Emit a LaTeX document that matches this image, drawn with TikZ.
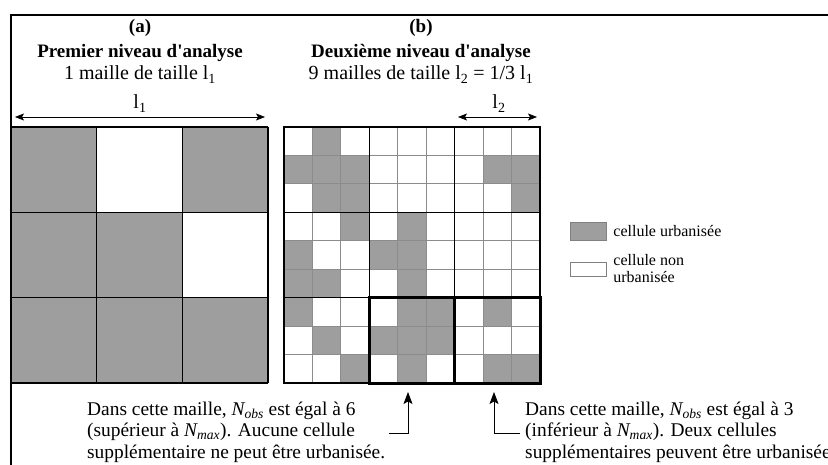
\documentclass[tikz,border=0pt]{standalone}
\usepackage{fontspec}
\setmainfont{Liberation Serif}[Ligatures=TeXOff]
\usetikzlibrary{arrows.meta, positioning}
\definecolor{urbgray}{HTML}{9E9E9E}
\definecolor{cellline}{HTML}{8C8C8C}

\begin{document}
\begin{tikzpicture}[x=1pt, y=-1pt,
  title/.style={font=\fontsize{19}{22}\selectfont\bfseries, inner sep=0pt, anchor=base},
  subtitle/.style={font=\fontsize{20}{22}\selectfont, inner sep=0pt, anchor=base},
  dimline/.style={{Stealth[length=9pt,width=7pt,inset=2pt]}-{Stealth[length=9pt,width=7pt,inset=2pt]}, line width=0.6pt},
  note/.style={font=\fontsize{19.4}{21.5}\selectfont, align=left, inner sep=0pt, anchor=west},
  legtext/.style={font=\fontsize{16}{17}\selectfont, align=left, inner sep=0pt, anchor=west},
  urban/.style={fill=urbgray},
  pointer/.style={-{Stealth[length=12pt,width=9pt,inset=2.5pt]}, line width=0.8pt}
]
  \useasboundingbox (0,0) rectangle (828,465);
  \draw[line width=2pt] (11,465) -- (11,15) -- (828,15);

  % (a) premier niveau
  \node[title] (lettera) at (140,33) {(a)};
  \node[title] (titlea) at (140,58) {Premier niveau d'analyse};
  \node[subtitle] (suba) at (140,80) {1 maille de taille l\textsubscript{1}};
  \coordinate (dima1) at (15,117);
  \coordinate (dima2) at (265,117);
  \draw[dimline] (dima1) -- (dima2);
  \node[subtitle] (la) at (140,109) {l\textsubscript{1}};

  \foreach \r/\c in {1/1, 1/3, 2/1, 2/2, 3/1, 3/2, 3/3}
    \fill[urban] (11+\c*85.67-85.67, 127+\r*85.33-85.33) rectangle +(85.67,85.33);
  \foreach \i in {0,1,2,3} {
    \draw[line width=1.5pt] (11+\i*85.67,127) -- ++(0,256);
    \draw[line width=1.5pt] (11,127+\i*85.33) -- ++(257,0);
  }

  % (b) deuxieme niveau
  \node[title] (letterb) at (421,33) {(b)};
  \node[title] (titleb) at (421,58) {Deuxième niveau d'analyse};
  \node[subtitle] (subb) at (421,80) {9 mailles de taille l\textsubscript{2} = 1/3 l\textsubscript{1}};
  \coordinate (dimb1) at (458,117);
  \coordinate (dimb2) at (537,117);
  \draw[dimline] (dimb1) -- (dimb2);
  \node[subtitle] (lb) at (499,109) {l\textsubscript{2}};

  \foreach \r/\c in {1/2, 2/1, 2/2, 2/3, 2/8, 2/9, 3/2, 3/3, 3/9,
                     4/3, 4/5, 5/1, 5/4, 5/5, 6/1, 6/2, 6/5,
                     7/1, 7/5, 7/6, 7/8, 8/2, 8/4, 8/5, 8/6, 9/3, 9/5, 9/8, 9/9}
    \fill[urban] (284+\c*28.444-28.444, 127+\r*28.444-28.444) rectangle +(28.444,28.444);
  \foreach \i in {1,2,4,5,7,8} {
    \draw[cellline, line width=0.9pt] (284+\i*28.444,127) -- ++(0,256);
    \draw[cellline, line width=0.9pt] (284,127+\i*28.444) -- ++(256,0);
  }
  \foreach \i in {3,6} {
    \draw[line width=1.3pt] (284+\i*28.444,127) -- ++(0,256);
    \draw[line width=1.3pt] (284,127+\i*28.444) -- ++(256,0);
  }
  \draw[line width=1.5pt] (284,127) rectangle (540,383);
  \draw[line width=3pt] (369.33,297.67) rectangle (454.67,383);
  \draw[line width=3pt] (454.67,297.67) rectangle (540,383);

  % legende
  \node[draw=gray, fill=urbgray, minimum width=36pt, minimum height=18pt, inner sep=0pt] (legurb) at (588,231) {};
  \node[legtext, right=7pt of legurb] (legurbtext) {cellule urbanisée};
  \node[draw=gray, fill=white, minimum width=36pt, minimum height=14pt, inner sep=0pt] (legnon) at (588,269) {};
  \node[legtext, right=7pt of legnon] (legnontext) {cellule non\\urbanisée};

  % commentaires
  \node[note] (notea) at (87,432) {Dans cette maille, \textit{N\textsubscript{obs}} est égal à 6\\
    (supérieur à \textit{N\textsubscript{max}}). Aucune cellule\\
    supplémentaire ne peut être urbanisée.};
  \node[note] (noteb) at (525,432) {Dans cette maille, \textit{N\textsubscript{obs}} est égal à 3\\
    (inférieur à \textit{N\textsubscript{max}}). Deux cellules\\
    supplémentaires peuvent être urbanisées.};
  \coordinate (tipa) at (408,392);
  \coordinate (tipb) at (494,392);
  \draw[pointer] ([xshift=4pt,yshift=-1pt]notea.east) -| (tipa);
  \draw[pointer] ([xshift=-5pt,yshift=-1pt]noteb.west) -| (tipb);
\end{tikzpicture}
\end{document}
